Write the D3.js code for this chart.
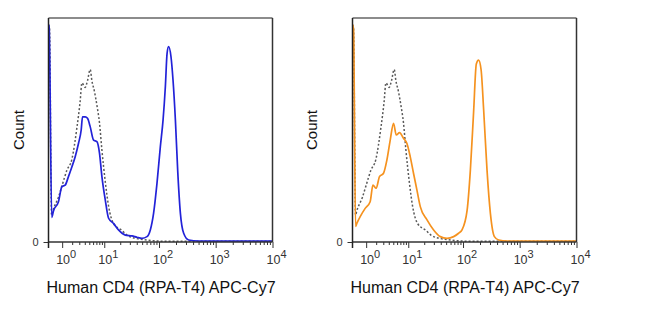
<!DOCTYPE html>
<html>
<head>
<meta charset="utf-8">
<script src="https://cdn.jsdelivr.net/npm/d3@7"></script>
<style>
  body { margin: 0; background: #fff; }
  svg { display: block; font-family: "Liberation Sans", Arial, sans-serif; }
</style>
</head>
<body>
<svg id="chart" width="650" height="330"></svg>
<script>
// Fluorescence axis (symlog, like a logicle display)
var xDomain = [0.15, 10000];
var majorTicks = [1, 10, 100, 1000, 10000];
var majorExp = ["0", "1", "2", "3", "4"];
var countDomain = [0, 100];
var xTitle = "Human CD4 (RPA-T4) APC-Cy7";
var yTitle = "Count";

// Isotype control (grey dotted), [value, count]
var isotypeControl = [
    [0.15, 97], [0.2, 95], [0.3, 12], [0.37, 14], [0.72, 20], [0.98, 25],
    [1.42, 32], [1.97, 37], [2.63, 51], [3.15, 63], [3.45, 71], [4.08, 69],
    [4.58, 72], [5.22, 77], [5.67, 72], [6.42, 67], [7.17, 61], [8.08, 53],
    [9.0, 41], [10.45, 27], [12.1, 16], [15, 8.3], [21.4, 5.2], [26.6, 3.1],
    [40.4, 1.5], [61, 0.9], [92, 0.45], [150, 0.3], [10000, 0.3]
];

// Stained sample, left panel (blue)
var cd4Blue = [
    [0.15, 97], [0.18, 96], [0.31, 11], [0.41, 14], [0.72, 18], [0.98, 24.7],
    [1.26, 25.4], [1.58, 29.2], [1.97, 33.6], [2.39, 38.1], [2.88, 44.1],
    [3.32, 50], [3.56, 55.9], [4.08, 55.9], [4.58, 55.2], [5.22, 51.5],
    [6.12, 45.5], [7.17, 44.8], [8.08, 39.6], [9.0, 29.2], [10.45, 18.8],
    [12.1, 10.6], [15, 8.3], [18.6, 5.4], [24.8, 3.1], [32.8, 2.7], [40.4, 2.1],
    [49.7, 1.65], [61.1, 2.4], [70, 5.4], [80, 12.8], [92, 26.2], [105.5, 42.5],
    [118, 54.5], [129.5, 69.3], [139, 84.2], [148, 87.2], [163, 82.7],
    [177, 72.3], [195, 54.5], [214, 32.1], [239, 12.8], [273, 3.9], [335, 0.9],
    [500, 0.4], [10000, 0.4]
];

// Stained sample, right panel (orange)
var cd4Orange = [
    [0.15, 97], [0.2, 95], [0.3, 7], [0.37, 8.3], [0.57, 11.3], [0.92, 15],
    [1.35, 18], [1.63, 25.4], [2.0, 24], [2.43, 29.2], [3.04, 30.7], [3.63, 36.6],
    [4.3, 45.5], [5.06, 53], [5.76, 47.8], [6.72, 48.8], [8.08, 46.3],
    [9.43, 44], [10.9, 38.1], [12.6, 30.7], [14.6, 23.3], [16.9, 15.8],
    [22.5, 9.9], [29.7, 5.4], [39.2, 2.4], [51.8, 1.65], [68, 2.4], [83.5, 3.9],
    [96, 5.4], [118, 14], [135, 32.1], [154, 58], [172, 79.5], [189, 81.2],
    [209, 76.9], [232, 58.9], [266, 32.1], [305, 12.8], [359, 2.4], [427, 0.9],
    [600, 0.4], [10000, 0.4]
];

var panels = [
    {left: 48.5, series: cd4Blue, color: "#2222d8", countX: 19},
    {left: 352.5, series: cd4Orange, color: "#f5921f", countX: 312}
];

var plotW = 224, plotTop = 18, plotBottom = 242;

var minorTicks = [];
[1, 10, 100, 1000].forEach(function (d) {
    for (var k = 2; k <= 9; k++) minorTicks.push(d * k);
});

var svg = d3.select("#chart");

panels.forEach(function (p, i) {
    var x = d3.scaleSymlog()
        .constant(1)
        .domain(xDomain)
        .range([p.left, p.left + plotW]);
    var y = d3.scaleLinear()
        .domain(countDomain)
        .range([plotBottom, plotTop]);

    var g = svg.append("g");

    g.append("clipPath").attr("id", "clip" + i)
        .append("rect")
        .attr("x", p.left).attr("y", plotTop - 1)
        .attr("width", plotW).attr("height", plotBottom - plotTop + 1);

    var line = d3.line()
        .x(function (d) { return x(d[0]); })
        .y(function (d) { return y(d[1]); })
        .curve(d3.curveMonotoneX);

    g.append("path")
        .datum(isotypeControl)
        .attr("clip-path", "url(#clip" + i + ")")
        .attr("d", line)
        .attr("fill", "none")
        .attr("stroke", "#5a5a5a")
        .attr("stroke-width", 1.5)
        .attr("stroke-dasharray", "2,2");

    g.append("path")
        .datum(p.series)
        .attr("clip-path", "url(#clip" + i + ")")
        .attr("d", line)
        .attr("fill", "none")
        .attr("stroke", p.color)
        .attr("stroke-width", 1.7);

    // frame: top and right
    g.append("line")
        .attr("x1", p.left).attr("x2", p.left + plotW)
        .attr("y1", plotTop).attr("y2", plotTop)
        .attr("stroke", "#666").attr("stroke-width", 1.5);
    g.append("line")
        .attr("x1", p.left + plotW).attr("x2", p.left + plotW)
        .attr("y1", plotTop).attr("y2", plotBottom)
        .attr("stroke", "#333").attr("stroke-width", 1.5);

    // x axis: minor then major ticks
    var minorAxis = g.append("g")
        .attr("transform", "translate(0," + plotBottom + ")")
        .call(d3.axisBottom(x).tickValues(minorTicks).tickSize(3).tickFormat(""));
    minorAxis.select(".domain").remove();
    minorAxis.selectAll("line").attr("stroke", "#333");

    var majorAxis = g.append("g")
        .attr("transform", "translate(0," + plotBottom + ")")
        .call(d3.axisBottom(x).tickValues(majorTicks).tickSize(6).tickFormat(""));
    majorAxis.select(".domain").remove();
    majorAxis.selectAll("line").attr("stroke", "#333");

    majorAxis.selectAll(".tick").each(function (d, j) {
        var t = d3.select(this).append("text")
            .attr("x", -6.5)
            .attr("y", 22)
            .attr("fill", "#333")
            .attr("text-anchor", "start")
            .style("font-size", "12.5px");
        t.append("tspan").text("10");
        t.append("tspan")
            .attr("dy", -6.5)
            .style("font-size", "11px")
            .text(majorExp[j]);
    });

    // y axis: only the zero tick
    var yAxis = g.append("g")
        .attr("transform", "translate(" + p.left + ",0)")
        .call(d3.axisLeft(y).tickValues([0]).tickSize(5).tickPadding(5));
    yAxis.select(".domain").remove();
    yAxis.selectAll("line").attr("stroke", "#333");
    yAxis.selectAll("text")
        .attr("fill", "#333")
        .style("font-size", "11px")
        .style("font-family", "'Liberation Sans', Arial, sans-serif");

    // axis lines
    g.append("line")
        .attr("x1", p.left - 0.5).attr("x2", p.left + plotW)
        .attr("y1", plotBottom).attr("y2", plotBottom)
        .attr("stroke", "#333").attr("stroke-width", 1.5);
    g.append("line")
        .attr("x1", p.left).attr("x2", p.left)
        .attr("y1", plotTop).attr("y2", plotBottom + 6)
        .attr("stroke", "#222").attr("stroke-width", 1.5);

    // titles
    g.append("text")
        .attr("x", p.left + plotW / 2 + 0.5)
        .attr("y", 293)
        .attr("text-anchor", "middle")
        .attr("fill", "#111")
        .style("font-size", "16px")
        .text(xTitle);

    g.append("text")
        .attr("transform", "translate(" + (p.countX + 5) + ",130) rotate(-90)")
        .attr("text-anchor", "middle")
        .attr("fill", "#111")
        .style("font-size", "15px")
        .text(yTitle);
});
</script>
</body>
</html>
